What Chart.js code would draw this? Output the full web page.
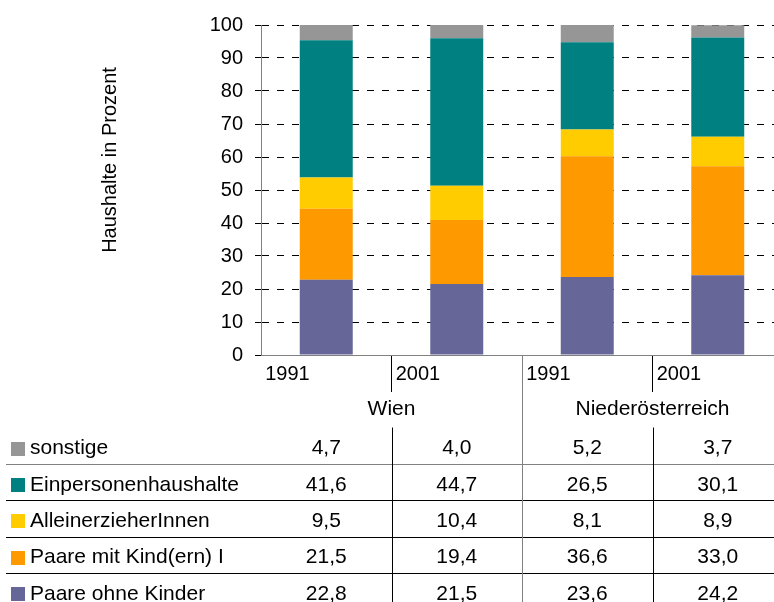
<!DOCTYPE html>
<html>
<head>
<meta charset="utf-8">
<script src="https://cdn.jsdelivr.net/npm/chart.js@4/dist/chart.umd.min.js"></script>
<style>
  html, body { margin: 0; padding: 0; background: #fff; overflow: hidden; }
  #chart { position: absolute; left: 0; top: 0; }
</style>
</head>
<body>
<canvas id="chart" width="800" height="602"></canvas>
<script>
    // Categories and groups
    const YEARS = ['1991', '2001', '1991', '2001'];
    const GROUPS = ['Wien', 'Niederösterreich'];

    // Series values (percent of households)
    const paareOhneKinder = [22.8, 21.5, 23.6, 24.2];
    const paareMitKindern = [21.5, 19.4, 36.6, 33.0];
    const alleinerzieher = [9.5, 10.4, 8.1, 8.9];
    const einpersonen = [41.6, 44.7, 26.5, 30.1];
    const sonstige = [4.7, 4.0, 5.2, 3.7];

    const Y_TICKS = [0, 10, 20, 30, 40, 50, 60, 70, 80, 90, 100];

    const FONT = "'Liberation Sans', Arial, sans-serif";

    // Stack order bottom -> top
    const SERIES = [
        { label: 'Paare ohne Kinder', data: paareOhneKinder, color: '#666699' },
        { label: 'Paare mit Kind(ern) I', data: paareMitKindern, color: '#FF9900' },
        { label: 'AlleinerzieherInnen', data: alleinerzieher, color: '#FFCC00' },
        { label: 'Einpersonenhaushalte', data: einpersonen, color: '#008080' },
        { label: 'sonstige', data: sonstige, color: '#969696' }
    ];

    /**
     * Formats a value with German decimal comma.
     */
    function formatValue(v) {
        return v.toFixed(1).replace('.', ',');
    }

    /**
     * Draws the axis title, group labels and the data table under the plot.
     */
    const tablePlugin = {
        id: 'dataTable',
        afterDraw(chart) {
            const ctx = chart.ctx;
            const x = chart.scales.x;
            const area = chart.chartArea;
            const catW = x.getPixelForValue(1) - x.getPixelForValue(0);
            const edge = i => x.getPixelForValue(i) - catW / 2;

            ctx.save();
            ctx.fillStyle = '#000';
            ctx.font = '20px ' + FONT;

            // Y axis title
            ctx.save();
            ctx.translate(110, 160);
            ctx.rotate(-Math.PI / 2);
            ctx.textAlign = 'center';
            ctx.textBaseline = 'middle';
            ctx.fillText('Haushalte in Prozent', 0, 0);
            ctx.restore();

            ctx.font = '21px ' + FONT;

            // Group labels, centred over each pair of bars
            ctx.textAlign = 'center';
            ctx.textBaseline = 'middle';
            GROUPS.forEach((g, gi) => {
                ctx.fillText(g, edge(gi * 2 + 1), 409);
            });

            // Table grid
            const rowTop = 427.5;
            const rowH = 36.4;
            const rows = SERIES.slice().reverse();
            ctx.lineWidth = 1;
            rows.forEach((s, ri) => {
                if (ri === rows.length - 1) return;
                const ly = Math.round(rowTop + (ri + 1) * rowH) + 0.5;
                ctx.strokeStyle = ri === 0 ? '#808080' : '#000';
                ctx.beginPath();
                ctx.moveTo(6, ly);
                ctx.lineTo(chart.width, ly);
                ctx.stroke();
            });
            [1, 2, 3].forEach(i => {
                const lx = Math.round(edge(i)) + 0.5;
                ctx.strokeStyle = i === 2 ? '#808080' : '#000';
                ctx.beginPath();
                ctx.moveTo(lx, i === 2 ? area.bottom : rowTop);
                ctx.lineTo(lx, chart.height);
                ctx.stroke();
            });

            // Legend keys and values
            rows.forEach((s, ri) => {
                const cy = rowTop + ri * rowH + 21;
                ctx.fillStyle = s.color;
                ctx.fillRect(11, Math.round(cy - 7), 14, 14);
                ctx.fillStyle = '#000';
                ctx.textAlign = 'left';
                ctx.fillText(s.label, 30, cy);
                ctx.textAlign = 'center';
                s.data.forEach((v, ci) => {
                    ctx.fillText(formatValue(v), x.getPixelForValue(ci), cy);
                });
            });
            ctx.restore();
        }
    };

    new Chart(document.getElementById('chart').getContext('2d'), {
        type: 'bar',
        data: {
            labels: YEARS,
            datasets: SERIES.map(s => ({
                label: s.label,
                data: s.data,
                backgroundColor: s.color,
                borderWidth: 0,
                barPercentage: 0.406,
                categoryPercentage: 1.0
            }))
        },
        options: {
            responsive: false,
            devicePixelRatio: 1,
            animation: false,
            layout: { padding: { left: 0, top: 25, right: 17, bottom: 0 } },
            plugins: {
                legend: { display: false },
                tooltip: { enabled: false }
            },
            scales: {
                x: {
                    stacked: true,
                    offset: true,
                    afterFit: s => { s.height = 247; },
                    grid: {
                        offset: true,
                        drawOnChartArea: false,
                        tickLength: 37,
                        tickColor: c => c.index === 0 ? 'rgba(0,0,0,0)' : (c.index === 2 ? '#808080' : '#000')
                    },
                    border: { color: '#808080', width: 1 },
                    ticks: {
                        color: '#000',
                        font: { family: FONT, size: 20 },
                        align: 'start',
                        labelOffset: -61,
                        padding: -30,
                        maxRotation: 0,
                        autoSkip: false
                    }
                },
                y: {
                    stacked: true,
                    min: 0,
                    max: 100,
                    afterFit: s => { s.width = 261; },
                    afterBuildTicks: s => { s.ticks = Y_TICKS.map(v => ({ value: v })); },
                    grid: {
                        color: c => c.tick && c.tick.value === 0 ? 'rgba(0,0,0,0)' : '#000',
                        tickColor: '#000',
                        tickLength: 6
                    },
                    border: { color: '#808080', width: 1, dash: [7, 8], dashOffset: 0 },
                    ticks: {
                        color: '#000',
                        font: { family: FONT, size: 20 },
                        padding: 12
                    }
                }
            }
        },
        plugins: [tablePlugin]
    });
</script>
</body>
</html>
